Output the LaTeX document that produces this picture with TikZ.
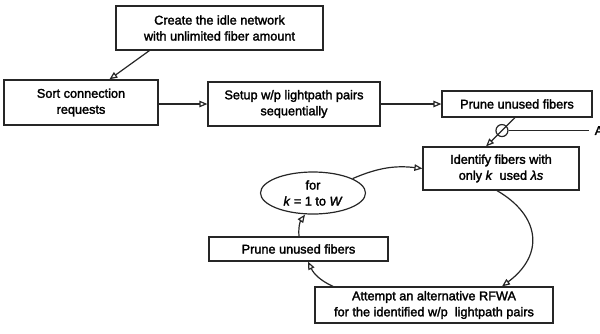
\documentclass[tikz,border=0pt]{standalone}
\usepackage{fontspec}
\setmainfont{Liberation Sans}[RawFeature={embolden=2}]
\usetikzlibrary{arrows.meta,shapes.geometric,calc}
\newcommand\fs{\fontsize{12.7}{16}\selectfont}
\begin{document}
\begin{tikzpicture}[x=1pt,y=-1pt,
  box/.style={draw=black!85, line width=1.2pt, rectangle, inner sep=0pt, align=center, font=\fs},
  arr/.style={draw=black!85, line width=1.2pt, -{Triangle[open,length=8pt,width=6.5pt]}},
  plain/.style={draw=black!85, line width=1.2pt}]
\clip (0,0) rectangle (600,333);
\node[box, minimum width=207pt, minimum height=44pt] (b1) at (219.5,28) {Create the idle network\\with unlimited fiber amount};
\node[box, minimum width=154pt, minimum height=45pt] (b2) at (81,102.5) {Sort connection\\requests};
\node[box, minimum width=172pt, minimum height=44pt] (b3) at (294,104) {Setup w/p lightpath pairs\\sequentially};
\node[box, minimum width=150pt, minimum height=26pt] (b4) at (517,104) {Prune unused fibers};
\node[box, minimum width=156pt, minimum height=43pt] (b5) at (501,168.5) {Identify fibers with\\only \textit{k}\ \ used \textit{λs}};
\node[box, minimum width=238pt, minimum height=36pt] (b6) at (434,305) {Attempt an alternative RFWA\\for the identified w/p\ \ lightpath pairs};
\node[box, minimum width=179pt, minimum height=24pt] (b7) at (298.5,249) {Prune unused fibers};
\node[ellipse, draw=black!85, line width=1.2pt, minimum width=105pt, minimum height=42pt, inner sep=0pt, align=center, font=\fs] (loop) at (313,193) {for\\\textit{k} = 1 to \textit{W}};

\draw[arr] ([xshift=34pt]b1.south west) -- ([xshift=106pt]b2.north west);
\draw[arr] (b3.west -| b2.east) -- (b3.west);
\draw[arr] (b3.east) -- (b4.west);
\draw[arr] ([xshift=-2pt]b4.south) -- node[circle, draw=black!85, line width=1.2pt, minimum size=12pt, inner sep=0pt, pos=0.45] (cut) {} ([xshift=-15pt]b5.north);
\draw[plain] (cut.east) -- ++(80,0) coordinate (aend);
\node[anchor=west, inner sep=0pt, xshift=6pt, font=\fs] (alabel) at (aend) {A};
\draw[arr] ([xshift=-4pt]b5.south) .. controls +(43,25) and +(43,-32) .. ([xshift=68pt]b6.north);
\draw[arr] ([xshift=-101pt]b6.north) to[bend left=20] ([xshift=9.5pt]b7.south);
\draw[arr] ([xshift=0.5pt]b7.north) to[bend left=20] ([xshift=-8pt]loop.south);
\draw[arr] (loop.20) to[bend left=15] (b5.west);
\end{tikzpicture}
\end{document}
